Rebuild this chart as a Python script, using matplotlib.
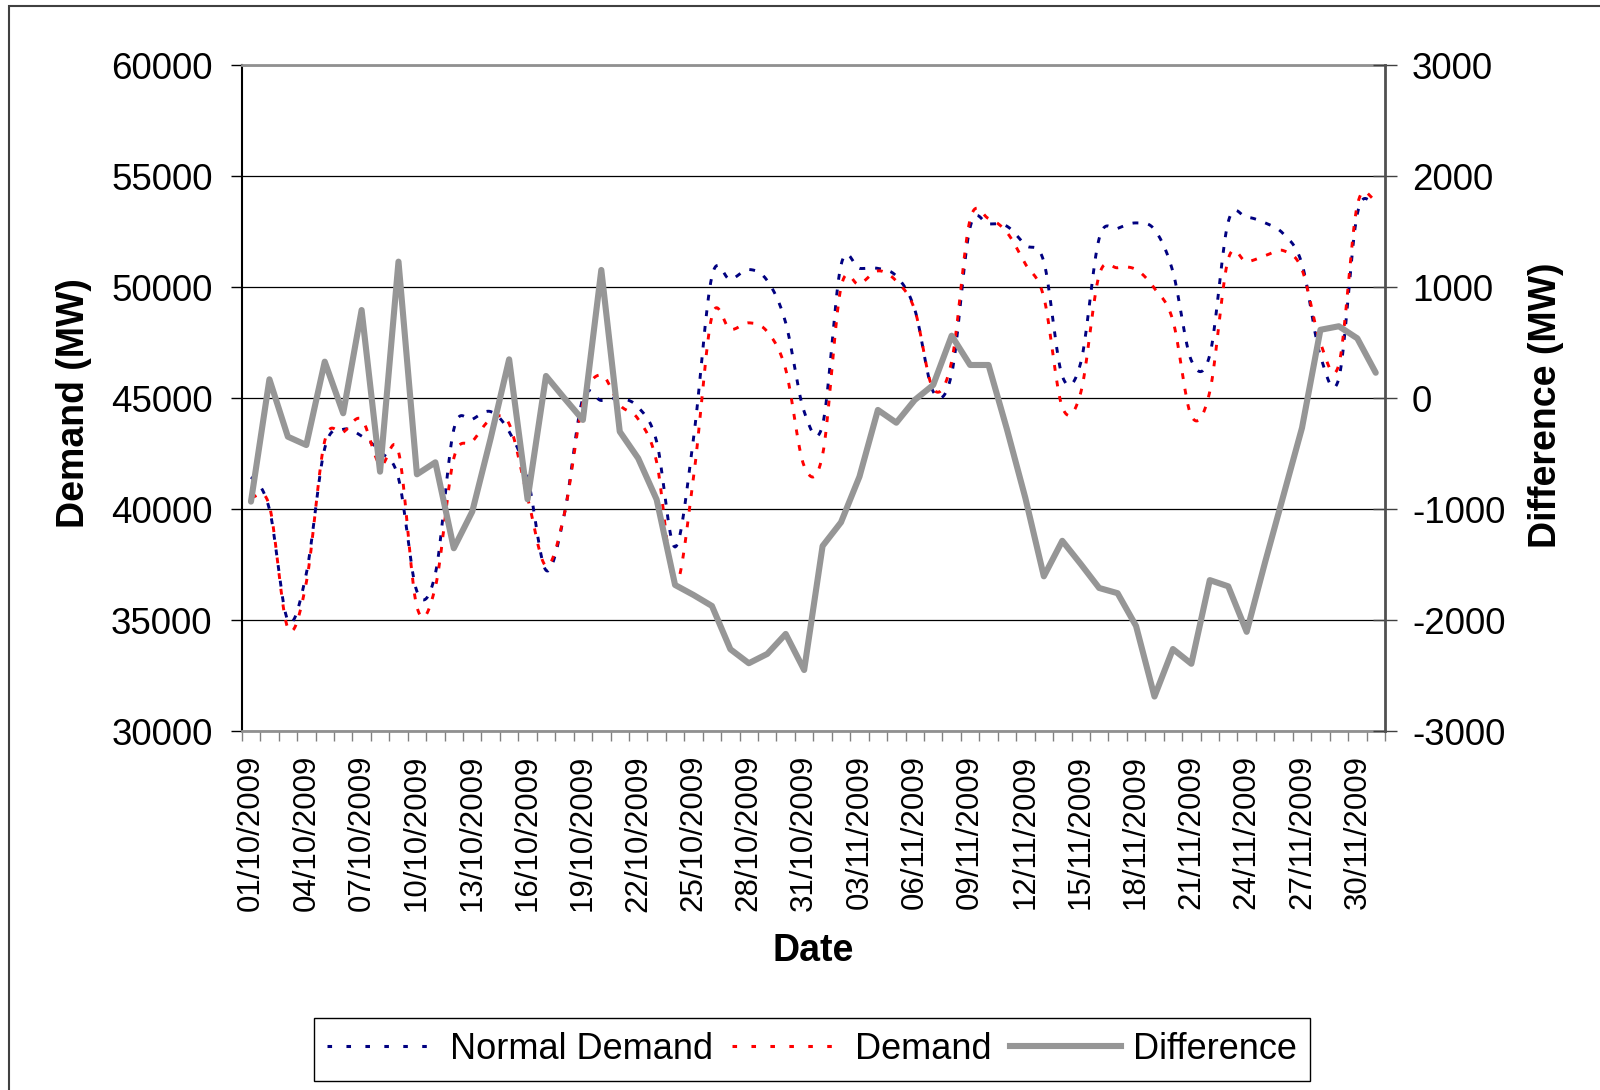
import numpy as np
import pandas as pd
from matplotlib import pyplot as plt
from matplotlib.patches import Rectangle
from matplotlib.lines import Line2D

plt.rcParams['font.family'] = ['Liberation Sans', 'DejaVu Sans']
plt.rcParams['axes.unicode_minus'] = False

dates = pd.date_range('2009-10-01', '2009-12-01', freq='D')
date_labels = [d.strftime('%d/%m/%Y') for d in dates]

normal = [41450, 40000, 35000, 37100, 42750, 43600, 43300, 42600, 41400, 36300,
          37100, 43600, 44050, 44400, 43500, 41450, 37250, 39800, 45000, 44900,
          45000, 44600, 43050, 38300, 43200, 50500, 50350, 50800, 50300, 48400,
          44400, 43800, 51000, 50850, 50850, 50500, 49000, 45300, 46100, 52700,
          52850, 52750, 51900, 51150, 46000, 46600, 52200, 52650, 52900, 52600,
          50700, 46700, 46950, 52950, 53150, 52900, 52400, 51050, 46900, 45900,
          53300, 53750]

demand = [40550, 40150, 34650, 36700, 43080, 43470, 44050, 42000, 42600, 35600,
          36500, 42300, 43050, 44040, 43850, 40540, 37450, 39800, 44800, 46050,
          44700, 44060, 42130, 36600, 41430, 48700, 48100, 48400, 48000, 46300,
          41950, 42450, 50000, 50130, 50740, 50280, 48980, 45420, 46660, 53050,
          53100, 52470, 51050, 49550, 44600, 45250, 50550, 50880, 50800, 49950,
          48500, 44200, 45300, 51270, 51150, 51420, 51650, 50800, 47500, 46520,
          53700, 53950]

difference = [-931, 171, -346, -421, 330, -135, 795, -661, 1231, -685,
              -577, -1351, -1021, -360, 351, -910, 201, 0, -195, 1156,
              -300, -541, -912, -1682, -1772, -1871, -2261, -2387, -2303, -2123,
              -2448, -1331, -1117, -706, -105, -220, -15, 120, 564, 300,
              300, -280, -900, -1604, -1284, -1493, -1709, -1756, -2051, -2687,
              -2259, -2392, -1638, -1694, -2104, -1476, -872, -267, 617, 649,
              540, 230]


def smooth(y, n=16):
    # excel style smoothed line: catmull-rom through every point
    y = np.asarray(y, float)
    p = np.concatenate([[y[0]], y, [y[-1]]])
    t = np.linspace(0, 1, n, endpoint=False)
    h00 = 2*t**3 - 3*t**2 + 1
    h10 = t**3 - 2*t**2 + t
    h01 = -2*t**3 + 3*t**2
    h11 = t**3 - t**2
    xs, ys = [], []
    for i in range(len(y) - 1):
        m1 = (p[i+2] - p[i]) / 2
        m2 = (p[i+3] - p[i+1]) / 2
        ys.append(h00*p[i+1] + h10*m1 + h01*p[i+2] + h11*m2)
        xs.append(i + t)
    xs.append([len(y) - 1])
    ys.append([y[-1]])
    return np.concatenate(xs), np.concatenate(ys)


x = np.arange(len(dates))
dash = (0, (2.0, 3.4))

fig = plt.figure(figsize=(16, 10.9), dpi=100)
ax = fig.add_axes([0.1511, 0.3291, 0.7145, 0.6110])
ax2 = ax.twinx()

sx, sy = smooth(normal)
ax.plot(sx, sy, color='#000080', lw=2.1, ls=dash)
sx, sy = smooth(demand)
ax.plot(sx, sy, color='#ff0000', lw=2.1, ls=dash)
ax2.plot(x, difference, color='#969696', lw=4.4, solid_joinstyle='round',
         solid_capstyle='round')

ax.set_xlim(-0.5, len(dates) - 0.5)
ax.set_ylim(30000, 60000)
ax.set_yticks(np.arange(30000, 60001, 5000))
ax2.set_ylim(-3000, 3000)
ax2.set_yticks(np.arange(-3000, 3001, 1000))

ax.grid(axis='y', color='black', lw=0.9)
ax.set_axisbelow(True)

ax.set_xticks(x[::3])
ax.set_xticklabels(date_labels[::3], rotation=90, fontsize=22.5)
ax.set_xticks(np.arange(-0.5, len(dates), 1), minor=True)
ax.tick_params(axis='x', which='major', length=0, pad=17)
ax.tick_params(axis='x', which='minor', length=7, color='#808080', width=1)
ax.tick_params(axis='y', labelsize=26.5, length=8, width=1, pad=13, color='black')
ax2.tick_params(axis='y', labelsize=26.5, length=17, direction='inout', width=1,
                pad=11, color='#404040')

ax.spines['top'].set_color('#909090')
ax.spines['top'].set_linewidth(2)
ax.spines['bottom'].set_color('#909090')
ax.spines['bottom'].set_linewidth(2)
ax.spines['left'].set_color('black')
ax.spines['left'].set_linewidth(1.5)
ax.spines['right'].set_visible(False)
for s in ['top', 'bottom', 'left']:
    ax2.spines[s].set_visible(False)
ax2.spines['right'].set_color('#505050')
ax2.spines['right'].set_linewidth(2)

ax.set_ylabel('Demand (MW)', fontsize=27, fontweight='bold')
ax.yaxis.set_label_coords(-0.131, 0.493)
ax2.set_ylabel('Difference (MW)', fontsize=27, fontweight='bold')
ax2.yaxis.set_label_coords(1.1248, 0.489)
ax.set_xlabel('Date', fontsize=27, fontweight='bold')
ax.xaxis.set_label_coords(0.5, -0.3025)

handles = [Line2D([], [], color='#000080', lw=2.2, ls=(0, (1.5, 4.7))),
           Line2D([], [], color='#ff0000', lw=2.2, ls=(0, (1.5, 4.7))),
           Line2D([], [], color='#969696', lw=4.4)]
leg = ax.legend(handles, ['Normal Demand', 'Demand', 'Difference'], ncol=3,
                loc='center', bbox_to_anchor=(0.5075, 0.0372),
                bbox_transform=fig.transFigure, fontsize=26, fancybox=False,
                edgecolor='black', framealpha=1, handlelength=3.07,
                handletextpad=0.33, columnspacing=0.52, borderpad=0.38)
leg.get_frame().set_linewidth(1)

fig.add_artist(Rectangle((9/1600, -0.01), 1.02, 1.0045, transform=fig.transFigure,
                         fill=False, ec='#404040', lw=1.5))

fig.savefig('out.png', dpi=100)
